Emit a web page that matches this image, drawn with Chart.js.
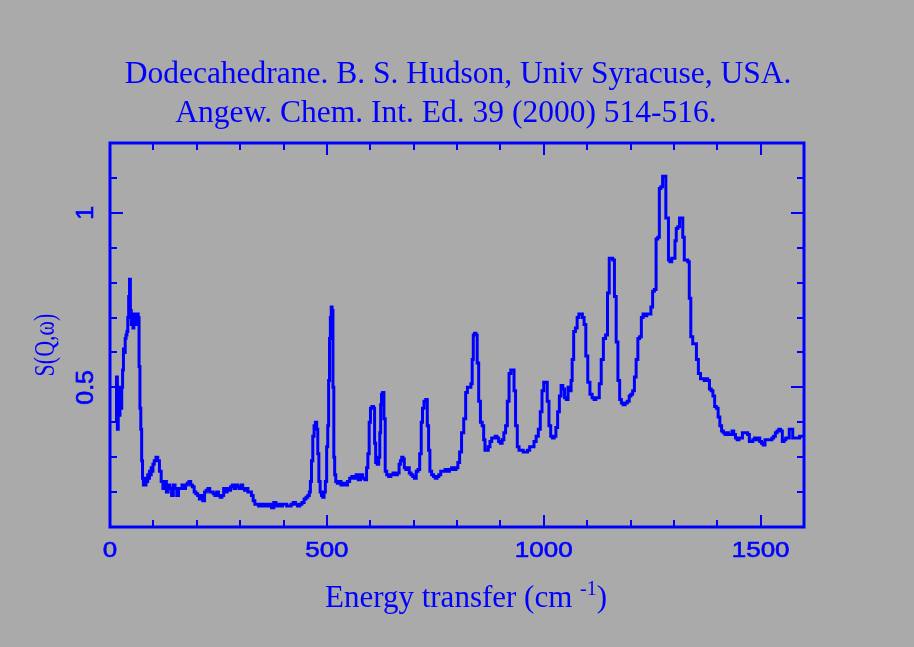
<!DOCTYPE html>
<html>
<head>
<meta charset="utf-8">
<title>Dodecahedrane INS spectrum</title>
<script src="https://cdn.jsdelivr.net/npm/chart.js@4.4.0/dist/chart.umd.min.js"></script>
<style>
  html, body { margin: 0; padding: 0; background: #aaaaaa; }
  #wrap { width: 914px; height: 647px; }
</style>
</head>
<body>
<div id="wrap"><canvas id="insChart" width="914" height="647"></canvas></div>
<script>
// Spectrum: energy transfer (cm-1) and S(Q,w)
const energy = [
  14, 16, 18, 20, 22, 24, 26, 28, 30, 32, 34, 36, 38, 40, 42, 44, 46, 48, 50, 52,
  54, 56, 58, 60, 62, 64, 66, 68, 70, 72, 74, 76, 78, 80, 82, 84, 86, 88, 90, 92,
  94, 96, 98, 100, 104, 108, 112, 116, 120, 124, 128, 132, 136, 140, 144, 148, 152, 156, 160, 164,
  168, 172, 176, 180, 184, 188, 192, 196, 200, 204, 208, 212, 216, 220, 224, 228, 232, 236, 240, 244,
  248, 252, 256, 260, 264, 268, 272, 276, 280, 284, 288, 292, 296, 300, 304, 308, 312, 316, 320, 324,
  328, 332, 336, 340, 345, 350, 355, 360, 365, 370, 375, 380, 385, 390, 395, 400, 405, 410, 415, 420,
  425, 430, 435, 440, 445, 450, 454, 458, 461, 463, 466, 469, 472, 475, 478, 480, 483, 486, 489, 492,
  495, 498, 501, 503, 505, 507, 509, 511, 513, 515, 517, 519, 522, 526, 530, 535, 540, 545, 550, 555,
  560, 565, 570, 575, 580, 585, 590, 593, 596, 599, 602, 606, 609, 611, 614, 618, 621, 623, 625, 627,
  630, 633, 636, 640, 645, 650, 655, 660, 665, 668, 671, 674, 677, 680, 684, 688, 692, 696, 700, 704,
  708, 712, 716, 719, 722, 726, 730, 733, 736, 739, 744, 748, 752, 756, 760, 765, 770, 775, 780, 785,
  790, 795, 800, 804, 808, 813, 818, 822, 826, 830, 834, 836, 839, 842, 845, 848, 852, 856, 860, 863,
  866, 870, 874, 878, 882, 886, 890, 894, 898, 902, 906, 910, 914, 918, 922, 926, 930, 933, 937, 941,
  945, 950, 955, 960, 965, 970, 975, 980, 985, 990, 994, 998, 1002, 1006, 1010, 1014, 1018, 1022, 1026, 1030,
  1034, 1038, 1042, 1046, 1050, 1054, 1058, 1062, 1064, 1067, 1071, 1075, 1079, 1083, 1087, 1091, 1095, 1099, 1104, 1109,
  1114, 1118, 1122, 1126, 1130, 1135, 1140, 1145, 1149, 1153, 1157, 1161, 1165, 1169, 1173, 1177, 1181, 1185, 1190, 1195,
  1199, 1203, 1207, 1211, 1215, 1219, 1223, 1227, 1231, 1235, 1240, 1245, 1249, 1253, 1257, 1261, 1265, 1268, 1272, 1276,
  1280, 1283, 1286, 1289, 1293, 1297, 1301, 1304, 1307, 1311, 1315, 1319, 1322, 1326, 1330, 1334, 1337, 1341, 1346, 1350,
  1354, 1359, 1364, 1368, 1372, 1376, 1380, 1384, 1388, 1392, 1396, 1400, 1404, 1408, 1412, 1416, 1420, 1424, 1428, 1432,
  1436, 1440, 1444, 1448, 1452, 1456, 1460, 1464, 1468, 1472, 1476, 1480, 1484, 1488, 1492, 1496, 1500, 1504, 1508, 1512,
  1516, 1520, 1524, 1528, 1532, 1536, 1540, 1544, 1548, 1552, 1556, 1560, 1564, 1568, 1572, 1576, 1580, 1584, 1588, 1592,
  1596, 1600
];
const intensity = [
  0.40, 0.53, 0.38, 0.50, 0.42, 0.47, 0.44, 0.50, 0.55, 0.61, 0.60, 0.64, 0.65, 0.66, 0.70, 0.76, 0.81, 0.72, 0.68, 0.71,
  0.67, 0.70, 0.68, 0.71, 0.68, 0.71, 0.70, 0.56, 0.44, 0.38, 0.29, 0.24, 0.22, 0.23, 0.22, 0.24, 0.23, 0.25, 0.24, 0.26,
  0.25, 0.27, 0.26, 0.28, 0.29, 0.30, 0.29, 0.26, 0.23, 0.21, 0.23, 0.20, 0.22, 0.21, 0.19, 0.22, 0.21, 0.19, 0.21, 0.21,
  0.22, 0.21, 0.22, 0.225, 0.23, 0.22, 0.215, 0.20, 0.195, 0.19, 0.18, 0.19, 0.175, 0.20, 0.205, 0.21, 0.20, 0.20, 0.195, 0.19,
  0.20, 0.19, 0.185, 0.19, 0.21, 0.20, 0.21, 0.205, 0.215, 0.22, 0.21, 0.22, 0.215, 0.21, 0.22, 0.21, 0.205, 0.21, 0.20, 0.20,
  0.19, 0.175, 0.165, 0.165, 0.16, 0.165, 0.16, 0.165, 0.16, 0.165, 0.155, 0.17, 0.16, 0.165, 0.16, 0.165, 0.165, 0.16, 0.16, 0.165,
  0.17, 0.165, 0.16, 0.165, 0.17, 0.18, 0.185, 0.19, 0.20, 0.23, 0.29, 0.36, 0.39, 0.40, 0.38, 0.31, 0.23, 0.20, 0.19, 0.185,
  0.20, 0.23, 0.33, 0.39, 0.52, 0.64, 0.70, 0.73, 0.72, 0.50, 0.30, 0.25, 0.23, 0.225, 0.23, 0.22, 0.225, 0.22, 0.23, 0.24,
  0.245, 0.24, 0.25, 0.235, 0.25, 0.24, 0.235, 0.27, 0.31, 0.40, 0.44, 0.445, 0.44, 0.34, 0.285, 0.28, 0.30, 0.37, 0.45, 0.48,
  0.485, 0.41, 0.26, 0.25, 0.245, 0.25, 0.255, 0.25, 0.255, 0.28, 0.29, 0.30, 0.295, 0.27, 0.265, 0.27, 0.255, 0.25, 0.245, 0.24,
  0.26, 0.265, 0.31, 0.40, 0.44, 0.46, 0.465, 0.39, 0.32, 0.26, 0.25, 0.245, 0.24, 0.245, 0.25, 0.26, 0.26, 0.265, 0.26, 0.265,
  0.27, 0.265, 0.27, 0.285, 0.315, 0.37, 0.41, 0.485, 0.50, 0.50, 0.51, 0.58, 0.65, 0.655, 0.65, 0.57, 0.46, 0.40, 0.39, 0.35,
  0.32, 0.32, 0.33, 0.345, 0.355, 0.355, 0.36, 0.355, 0.345, 0.34, 0.35, 0.37, 0.39, 0.46, 0.54, 0.55, 0.55, 0.49, 0.39, 0.33,
  0.32, 0.32, 0.315, 0.315, 0.32, 0.33, 0.33, 0.345, 0.36, 0.38, 0.43, 0.49, 0.515, 0.515, 0.46, 0.39, 0.36, 0.355, 0.36, 0.385,
  0.43, 0.475, 0.505, 0.495, 0.47, 0.465, 0.50, 0.49, 0.52, 0.58, 0.66, 0.67, 0.70, 0.71, 0.71, 0.70, 0.68, 0.59, 0.515, 0.48,
  0.47, 0.465, 0.47, 0.47, 0.51, 0.58, 0.64, 0.65, 0.77, 0.87, 0.87, 0.865, 0.76, 0.63, 0.52, 0.465, 0.455, 0.45, 0.455, 0.46,
  0.475, 0.48, 0.49, 0.53, 0.58, 0.64, 0.645, 0.70, 0.71, 0.705, 0.71, 0.71, 0.73, 0.775, 0.78, 0.925, 0.93, 1.07, 1.075, 1.105,
  1.105, 0.985, 0.985, 0.865, 0.86, 0.87, 0.87, 0.92, 0.955, 0.96, 0.985, 0.985, 0.93, 0.865, 0.865, 0.86, 0.755, 0.645, 0.625, 0.625,
  0.58, 0.54, 0.525, 0.525, 0.52, 0.525, 0.52, 0.495, 0.49, 0.475, 0.445, 0.44, 0.415, 0.39, 0.375, 0.37, 0.365, 0.37, 0.365, 0.365,
  0.375, 0.365, 0.355, 0.35, 0.355, 0.355, 0.37, 0.37, 0.37, 0.365, 0.345, 0.345, 0.35, 0.355, 0.35, 0.355, 0.345, 0.34, 0.335, 0.35,
  0.35, 0.35, 0.35, 0.355, 0.36, 0.37, 0.375, 0.38, 0.375, 0.345, 0.35, 0.355, 0.355, 0.38, 0.38, 0.355, 0.355, 0.355, 0.355, 0.36,
  0.36, 0.36
];

// Axis ticks
const xTickLabels = [0, 500, 1000, 1500];
const yTickLabels = [0.5, 1];
const xMinorStep = 100;
const yMinorStep = 0.1;

const titleLines = [
  "Dodecahedrane. B. S. Hudson, Univ Syracuse, USA.",
  "Angew. Chem. Int. Ed. 39 (2000) 514-516."
];

const blue = "#0000ff";
const bg = "#aaaaaa";
const serif = "'Liberation Serif', 'Times New Roman', serif";
const sans = "'Liberation Sans', Arial, sans-serif";

const points = energy.map((e, i) => ({ x: e, y: intensity[i] }));

// draw text stretched along its own height (sy) around the baseline point,
// with an optional thin outline to make it a little heavier
function stretchedText(c, text, x, y, sy, heavy) {
  c.save();
  c.translate(x, y);
  c.scale(1, sy);
  c.fillText(text, 0, 0);
  if (heavy) {
    c.lineWidth = heavy;
    c.strokeText(text, 0, 0);
  }
  c.restore();
}

// Frame, inward ticks, labels and titles, drawn from the chart's own scales
const framePlugin = {
  id: "frame",
  beforeDraw(chart) {
    const c = chart.ctx;
    c.save();
    c.fillStyle = bg;
    c.fillRect(0, 0, chart.width, chart.height);
    c.restore();
  },
  afterDatasetsDraw(chart) {
    const c = chart.ctx;
    const a = chart.chartArea;
    const xs = chart.scales.x;
    const ys = chart.scales.y;
    c.save();
    c.strokeStyle = blue;
    c.fillStyle = blue;
    c.lineWidth = 3;
    c.strokeRect(a.left, a.top, a.right - a.left, a.bottom - a.top);

    c.lineWidth = 2;
    c.beginPath();
    for (let v = xs.min; v <= xs.max + 1e-6; v += xMinorStep) {
      const px = Math.round(xs.getPixelForValue(v));
      const len = xTickLabels.includes(v) ? 12 : 7;
      c.moveTo(px, a.bottom); c.lineTo(px, a.bottom - len);
      c.moveTo(px, a.top); c.lineTo(px, a.top + len);
    }
    for (let k = 0; k <= Math.round((ys.max - ys.min) / yMinorStep); k++) {
      const v = +(ys.min + k * yMinorStep).toFixed(2);
      const py = Math.round(ys.getPixelForValue(v));
      const len = yTickLabels.includes(v) ? 13 : 7;
      c.moveTo(a.left, py); c.lineTo(a.left + len, py);
      c.moveTo(a.right, py); c.lineTo(a.right - len, py);
    }
    c.stroke();

    // x tick labels
    c.font = "26px " + sans;
    c.textAlign = "center";
    c.textBaseline = "alphabetic";
    xTickLabels.forEach(v => {
      stretchedText(c, String(v), xs.getPixelForValue(v), a.bottom + 30, 0.84, 0.7);
    });

    // y tick labels, rotated
    c.font = "25px " + sans;
    yTickLabels.forEach(v => {
      c.save();
      c.translate(a.left - 17, ys.getPixelForValue(v));
      c.rotate(-Math.PI / 2);
      stretchedText(c, String(v), 0, 0, 0.92, 0.7);
      c.restore();
    });

    // y axis title
    c.font = "22px " + serif;
    c.save();
    c.translate(54, 345);
    c.rotate(-Math.PI / 2);
    stretchedText(c, "S(Q,\u03c9)", 0, 0, 1.3);
    c.restore();

    // title
    c.font = "31.5px " + serif;
    c.fillText(titleLines[0], 458, 83);
    c.fillText(titleLines[1], 446, 122);

    // x axis title with superscript
    const main1 = "Energy transfer (cm ";
    const sup = "-1";
    const main2 = ")";
    const mainFont = "31px " + serif;
    const supFont = "20px " + serif;
    c.font = mainFont;
    const w1 = c.measureText(main1).width;
    const w3 = c.measureText(main2).width;
    c.font = supFont;
    const w2 = c.measureText(sup).width;
    const x0 = 466 - (w1 + w2 + w3) / 2;
    const base = 607;
    c.textAlign = "left";
    c.font = mainFont;
    c.fillText(main1, x0, base);
    c.font = supFont;
    c.fillText(sup, x0 + w1, base - 12);
    c.font = mainFont;
    c.fillText(main2, x0 + w1 + w2, base);
    c.restore();
  }
};

const ctx = document.getElementById("insChart").getContext("2d");
const insChart = new Chart(ctx, {
  type: "line",
  data: {
    datasets: [
      {
        label: "S(Q,w)",
        data: points,
        borderColor: blue,
        borderWidth: 3,
        pointRadius: 0,
        stepped: "middle",
        fill: false,
      },
    ],
  },
  options: {
    responsive: false,
    animation: false,
    devicePixelRatio: 1,
    layout: { padding: { left: 110, top: 143, right: 110, bottom: 120 } },
    plugins: {
      legend: { display: false },
      tooltip: { enabled: false },
    },
    scales: {
      x: { type: "linear", min: 0, max: 1600, display: false },
      y: { type: "linear", min: 0.1, max: 1.2, display: false },
    },
  },
  plugins: [framePlugin],
});
</script>
</body>
</html>
